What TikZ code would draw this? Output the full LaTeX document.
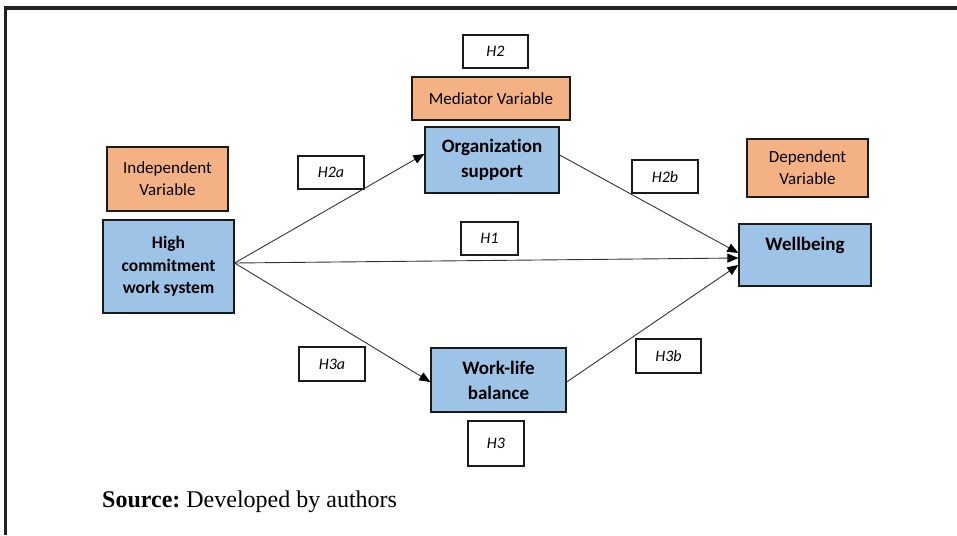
\documentclass[tikz,border=0pt]{standalone}
\usepackage{fontspec}
\setmainfont{Carlito}[Ligatures=NoCommon]
\newfontfamily\srcfont{Liberation Serif}
\usetikzlibrary{arrows.meta}
\definecolor{varorange}{HTML}{F4B183}
\definecolor{varblue}{HTML}{9DC3E6}
\definecolor{edgegray}{HTML}{1A1A1A}
\definecolor{linegray}{HTML}{333333}
\definecolor{framegray}{HTML}{222222}
\tikzset{
  box/.style={draw=edgegray, line width=1.3pt, inner sep=0pt, align=center},
  varbox/.style={box, fill=varorange, font=\fontsize{17}{22}\selectfont},
  conbox/.style={box, fill=varblue, font=\fontsize{19}{25}\selectfont\bfseries},
  hypbox/.style={box, fill=white, line width=1.1pt, font=\fontsize{16}{18}\selectfont\itshape},
  conn/.style={draw=linegray, line width=0.9pt, -{Triangle[length=11pt,width=9pt,color=black]}}
}
\begin{document}
\begin{tikzpicture}[x=1pt,y=-1pt]
\useasboundingbox (0,0) rectangle (957,535);
% frame
\draw[framegray, line width=3.2pt] (5.5,535) -- (5.5,8) -- (957,8);

% variable type labels
\node[varbox, minimum width=121pt, minimum height=64pt] (indep) at (167.5,179) {Independent\\Variable};
\node[varbox, minimum width=158pt, minimum height=43pt] (med) at (491,98.5) {Mediator Variable};
\node[varbox, minimum width=121pt, minimum height=58pt] (dep) at (807.5,168) {Dependent\\Variable};

% constructs
\node[conbox, minimum width=131pt, minimum height=93pt, font=\fontsize{17.5}{22.5}\selectfont\bfseries] (hcws) at (168.5,266.5) {High\\commitment\\work system};
\node[conbox, minimum width=134pt, minimum height=66pt] (org) at (492,160) {Organization\\support};
\node[conbox, minimum width=132pt, minimum height=62pt] (wb) at (805,255) {};
\node[font=\fontsize{19}{25}\selectfont\bfseries, inner sep=0pt] (wbtext) at ([yshift=10pt]wb.center) {Wellbeing};
\node[conbox, minimum width=135pt, minimum height=64pt] (wlb) at (498.5,380) {Work-life\\balance};

% hypotheses
\node[hypbox, minimum width=65pt, minimum height=33pt] (h2) at (495.5,51.5) {H2};
\node[hypbox, minimum width=66pt, minimum height=33pt] (h2a) at (331,172.5) {H2a};
\node[hypbox, minimum width=66pt, minimum height=33pt] (h2b) at (665,176.5) {H2b};
\node[hypbox, minimum width=57pt, minimum height=33pt] (h1) at (489.5,238.5) {H1};
\node[hypbox, minimum width=66pt, minimum height=34pt] (h3a) at (332,364) {H3a};
\node[hypbox, minimum width=65pt, minimum height=34pt] (h3b) at (668.5,356) {H3b};
\node[hypbox, minimum width=56pt, minimum height=45pt] (h3) at (496,443.5) {H3};

% connectors
\draw[conn] ([yshift=3.5pt]hcws.east) -- ([yshift=6pt]org.west);
\draw[conn] ([yshift=3.5pt]hcws.east) -- ([yshift=-3pt]wb.west);
\draw[conn] ([yshift=3.5pt]hcws.east) -- ([yshift=-2pt]wlb.west);
\draw[conn] ([yshift=5pt]org.east) -- ([yshift=2pt]wb.west);
\draw[conn] ([yshift=-2pt]wlb.east) -- ([yshift=-10pt]wb.west);

% source
\node[anchor=base west, inner sep=0pt, font=\srcfont\fontsize{24}{28}\selectfont] (src) at (102,507) {\frenchspacing\textbf{Source:} Developed by authors};
\end{tikzpicture}
\end{document}
